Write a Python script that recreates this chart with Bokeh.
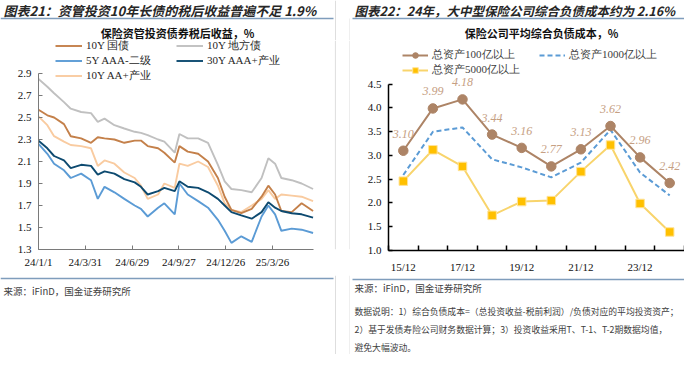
import pandas as pd
from bokeh.plotting import figure
from bokeh.layouts import row, column
from bokeh.models import (Range1d, FixedTicker, NumeralTickFormatter, Legend,
                          LegendItem, Span)
from bokeh.core.properties import value
from bokeh.embed import file_html
from bokeh.resources import INLINE

# ---------------- Left chart data ----------------
dates = ["2024-01-01", "2024-01-18", "2024-01-31", "2024-02-19", "2024-03-03",
         "2024-03-23", "2024-04-11", "2024-04-24", "2024-05-07", "2024-05-26",
         "2024-06-14", "2024-07-04", "2024-07-16", "2024-07-29", "2024-08-18",
         "2024-08-30", "2024-09-19", "2024-09-28", "2024-10-14", "2024-11-03",
         "2024-11-22", "2024-12-11", "2024-12-24", "2025-01-06", "2025-01-25",
         "2025-02-14", "2025-03-05", "2025-03-18", "2025-03-31", "2025-04-12",
         "2025-05-02", "2025-05-21", "2025-06-12"]
gov10 = [2.57, 2.52, 2.50, 2.44, 2.33, 2.31, 2.27, 2.32, 2.31, 2.30, 2.27, 2.29,
         2.29, 2.24, 2.22, 2.18, 2.09, 2.24, 2.19, 2.17, 2.10, 1.95, 1.78, 1.66,
         1.63, 1.67, 1.78, 1.88, 1.80, 1.65, 1.64, 1.72, 1.65]
local10 = [2.85, 2.78, 2.72, 2.64, 2.58, 2.55, 2.54, 2.46, 2.49, 2.43, 2.40, 2.37,
           2.36, 2.34, 2.30, 2.28, 2.18, 2.35, 2.31, 2.31, 2.27, 2.07, 1.92, 1.85,
           1.84, 1.82, 1.95, 2.13, 2.08, 1.95, 1.93, 1.90, 1.85]
aaa5 = [2.26, 2.17, 2.08, 2.02, 1.95, 1.99, 1.93, 1.76, 1.87, 1.82, 1.76, 1.70,
        1.67, 1.60, 1.68, 1.72, 1.62, 1.90, 1.80, 1.74, 1.68, 1.57, 1.47, 1.36,
        1.42, 1.37, 1.60, 1.70, 1.62, 1.47, 1.49, 1.48, 1.45]
aaa30 = [2.29, 2.22, 2.15, 2.11, 2.04, 2.07, 2.06, 1.98, 2.01, 1.99, 1.94, 1.91,
         1.87, 1.80, 1.83, 1.86, 1.83, 1.92, 1.87, 1.86, 1.82, 1.76, 1.70, 1.64,
         1.61, 1.58, 1.64, 1.73, 1.68, 1.65, 1.63, 1.62, 1.59]
aa10 = [2.51, 2.43, 2.33, 2.28, 2.25, 2.24, 2.22, 2.06, 2.11, 2.08, 2.00, 1.95,
        1.88, 1.76, 1.80, 1.90, 1.86, 2.08, 2.06, 2.10, 2.05, 1.88, 1.72, 1.66,
        1.64, 1.70, 1.76, 1.84, 1.76, 1.80, 1.79, 1.78, 1.74]
left_series_names = ["10Y 国债", "10Y 地方债", "5Y AAA-二级", "30Y AAA+产业", "10Y AA+产业"]
left_xticks = ["2024-01-01", "2024-03-31", "2024-06-29", "2024-09-27",
               "2024-12-26", "2025-03-26"]
left_xtick_labels = ["24/1/1", "24/3/31", "24/6/29", "24/9/27", "24/12/26", "25/3/26"]
left_yticks = [1.3, 1.5, 1.7, 1.9, 2.1, 2.3, 2.5, 2.7, 2.9]

# ---------------- Right chart data ----------------
periods = ["15/12", "16/12", "17/12", "18/12", "19/12", "20/12", "21/12",
           "22/12", "23/12", "24/12"]
cost100 = [3.10, 3.99, 4.18, 3.44, 3.16, 2.77, 3.13, 3.62, 2.96, 2.42]
cost1000 = [2.59, 3.50, 3.59, 2.92, 2.75, 2.54, 2.85, 3.54, 2.64, 2.16]
cost5000 = [2.46, 3.12, 2.77, 1.74, 2.03, 2.05, 2.66, 3.22, 1.99, 1.39]
right_series_names = ["总资产100亿以上", "总资产1000亿以上", "总资产5000亿以上"]
right_yticks = [1.0, 1.5, 2.0, 2.5, 3.0, 3.5, 4.0, 4.5]

# ---------------- Texts ----------------
title_left = "图表21：资管投资10年长债的税后收益普遍不足 1.9%"
title_right = "图表22：24年，大中型保险公司综合负债成本约为 2.16%"
sub_left = "保险资管投资债券税后收益，%"
sub_right = "保险公司平均综合负债成本，%"
source_text = "来源：iFinD，国金证券研究所"
notes = ["数据说明：1）综合负债成本=（总投资收益-税前利润）/负债对应的平均投资资产；",
         "2）基于发债寿险公司财务数据计算；3）投资收益采用T、T-1、T-2期数据均值，",
         "避免大幅波动。"]

CJK = "Noto Sans CJK SC"
SERIF = "Liberation Serif"
RULE = "#7F9DBC"
SEP = "#DEDEDE"
LW, RW = 350, 334          # panel widths
HH, CH, FH = 40, 235, 79   # header / chart / footer heights


def blank(w, h):
    p = figure(width=w, height=h, x_range=Range1d(0, w), y_range=Range1d(h, 0),
               output_backend="svg", toolbar_location=None, min_border=0,
               x_axis_location=None, y_axis_location=None, frame_align=False)
    p.grid.visible = False
    p.outline_line_color = None
    return p


def txt(p, x, y, s, size, color="#262626", style="normal", align="left", font=CJK):
    p.text(x=[x], y=[y], text=[s], text_font=value(font), text_font_size=size,
           text_font_style=style, text_color=color, text_align=align,
           text_baseline="middle")


# ---------------- Left header / footer ----------------
h1 = blank(LW, HH)
h1.segment(x0=[335, 349.5], y0=[0, 18], x1=[335, 349.5], y1=[HH, HH], line_color=SEP, line_width=1)
txt(h1, 3, 10, title_left, "13px", style="bold italic")
h1.segment(x0=[0], y0=[18], x1=[333], y1=[18], line_color=RULE, line_width=1.3)
txt(h1, 177, 32.5, sub_left, "11px", color="#111111", style="bold", align="center")

f1 = blank(LW, FH)
f1.segment(x0=[335, 349.5], y0=[0, 0], x1=[335, 349.5], y1=[FH, FH], line_color=SEP, line_width=1)
f1.segment(x0=[0], y0=[3], x1=[333], y1=[3], line_color=RULE, line_width=1.3)
txt(f1, 3, 15, source_text, "9.5px", color="#404040")

# ---------------- Left chart ----------------
x_start = pd.Timestamp("2024-01-01")
x_end = x_start + pd.Timedelta(days=600)
c1 = figure(width=LW, height=CH, x_axis_type="datetime",
            x_range=Range1d(x_start, x_end), y_range=Range1d(1.3, 3.2),
            output_backend="svg", toolbar_location=None, frame_align=False,
            min_border_left=38, min_border_right=0, min_border_top=0,
            min_border_bottom=26)
c1.grid.visible = False
c1.outline_line_color = None

dts = pd.to_datetime(dates)
left_colors = ["#C4804A", "#C0C0C0", "#5B9BD5", "#0D4A70", "#F9CBA0"]
left_data = [gov10, local10, aaa5, aaa30, aa10]
draw_order = [1, 4, 0, 2, 3]
rend = {}
for i in draw_order:
    rend[i] = c1.line(dts, left_data[i], line_color=left_colors[i], line_width=1.9)

leg1 = Legend(items=[LegendItem(label=left_series_names[i], renderers=[rend[i]]) for i in range(5)],
              location=(17, 166), orientation="horizontal", ncols=2,
              padding=0, margin=0, spacing=-3, glyph_width=27, glyph_height=13,
              label_height=13, label_width=90, label_standoff=4,
              label_text_font=SERIF, label_text_font_size="11px",
              label_text_color="#262626", border_line_color=None,
              background_fill_alpha=0)
c1.add_layout(leg1)

tick_ms = [pd.Timestamp(d).value / 1e6 for d in left_xticks]
xa = c1.xaxis[0]
xa.ticker = FixedTicker(ticks=tick_ms, minor_ticks=[])
xa.major_label_overrides = {t: l for t, l in zip(tick_ms, left_xtick_labels)}
xa.bounds = (pd.Timestamp(dates[0]).value / 1e6, pd.Timestamp(dates[-1]).value / 1e6)
ya = c1.yaxis[0]
ya.ticker = FixedTicker(ticks=left_yticks, minor_ticks=[])
ya.formatter = NumeralTickFormatter(format="0.0")
ya.bounds = (left_yticks[0], left_yticks[-1])
for ax in (xa, ya):
    ax.axis_line_color = "#7A7A7A"
    ax.major_tick_line_color = "#7A7A7A"
    ax.minor_tick_line_color = None
    ax.major_tick_in = 4
    ax.major_tick_out = 0
    ax.major_label_text_font = SERIF
    ax.major_label_text_font_size = "11px"
    ax.major_label_text_color = "#111111"
xa.major_label_standoff = 6
ya.major_label_standoff = 7

for dstr in ["2025-07-25", "2025-08-22"]:
    c1.add_layout(Span(location=pd.Timestamp(dstr).value / 1e6, dimension="height",
                       line_color=SEP, line_width=1))

# ---------------- Right header / footer ----------------
h2 = blank(RW, HH)
txt(h2, 4, 10, title_right, "12.5px", style="bold italic")
h2.segment(x0=[2], y0=[18], x1=[RW], y1=[18], line_color=RULE, line_width=1.3)
txt(h2, 191, 32.5, sub_right, "11px", color="#111111", style="bold", align="center")

f2 = blank(RW, FH)
f2.segment(x0=[2], y0=[4], x1=[RW], y1=[4], line_color=RULE, line_width=1.3)
txt(f2, 4, 12, source_text, "9.5px", color="#404040")
for k, line in enumerate(notes):
    txt(f2, 4, 36 + 18 * k, line, "8.8px", color="#404040")

# ---------------- Right chart ----------------
c2 = figure(width=RW, height=CH, x_range=Range1d(-0.5, len(periods) - 0.5),
            y_range=Range1d(1.0, 5.42), output_backend="svg", toolbar_location=None,
            frame_align=False, min_border_left=38, min_border_right=0,
            min_border_top=0, min_border_bottom=24)
c2.grid.visible = False
c2.outline_line_color = None

idx = list(range(len(periods)))
BROWN = "#AD8466"
BLUE = "#5B9BD5"
r5l = c2.line(idx, cost5000, line_color="#F8D46C", line_width=2)
r5m = c2.scatter(idx, cost5000, marker="square", size=8.5, fill_color="#FFC000",
                 line_color="#FFE39A", line_width=1)
r1 = c2.line(idx, cost1000, line_color=BLUE, line_width=2, line_dash="5 3")
r0l = c2.line(idx, cost100, line_color=BROWN, line_width=2)
r0m = c2.scatter(idx, cost100, marker="circle", size=9.5, fill_color=BROWN,
                 line_color=BROWN)
c2.text(idx, cost100, text=[f"{v:.2f}" for v in cost100], y_offset=-17,
        text_align="center", text_baseline="middle", text_font=value(SERIF),
        text_font_style="italic", text_font_size="12px", text_color="#C6A083")

leg2 = Legend(items=[LegendItem(label=right_series_names[0], renderers=[r0l, r0m]),
                     LegendItem(label=right_series_names[1], renderers=[r1]),
                     LegendItem(label=right_series_names[2], renderers=[r5l, r5m])],
              location=(14, 173), orientation="horizontal", ncols=2,
              padding=0, margin=0, spacing=-2, glyph_width=26, glyph_height=14,
              label_height=14, label_width=107, label_standoff=4,
              label_text_font=SERIF, label_text_font_size="11px",
              label_text_color="#404040", border_line_color=None,
              background_fill_alpha=0)
c2.add_layout(leg2)

xb = c2.xaxis[0]
lab_pos = idx[::2]
xb.ticker = FixedTicker(ticks=lab_pos, minor_ticks=[i - 0.5 for i in range(len(periods) + 1)])
xb.major_label_overrides = {i: periods[i] for i in lab_pos}
xb.major_tick_line_color = None
xb.minor_tick_line_color = "#000000"
xb.minor_tick_in = 5
xb.minor_tick_out = 0
yb = c2.yaxis[0]
yb.ticker = FixedTicker(ticks=right_yticks, minor_ticks=[])
yb.formatter = NumeralTickFormatter(format="0.0")
yb.bounds = (right_yticks[0], right_yticks[-1])
yb.minor_tick_line_color = None
yb.major_tick_line_color = "#000000"
yb.major_tick_in = 4
yb.major_tick_out = 0
for ax in (xb, yb):
    ax.axis_line_color = "#000000"
    ax.axis_line_width = 1.5
    ax.major_tick_line_width = 1.5
    ax.minor_tick_line_width = 1.5
    ax.major_label_text_font = SERIF
    ax.major_label_text_font_size = "11px"
    ax.major_label_text_color = "#111111"
xb.major_label_standoff = 4
yb.major_label_standoff = 7

layout = row(column(h1, c1, f1), column(h2, c2, f2))
open("out.html", "w").write(file_html(layout, INLINE))
